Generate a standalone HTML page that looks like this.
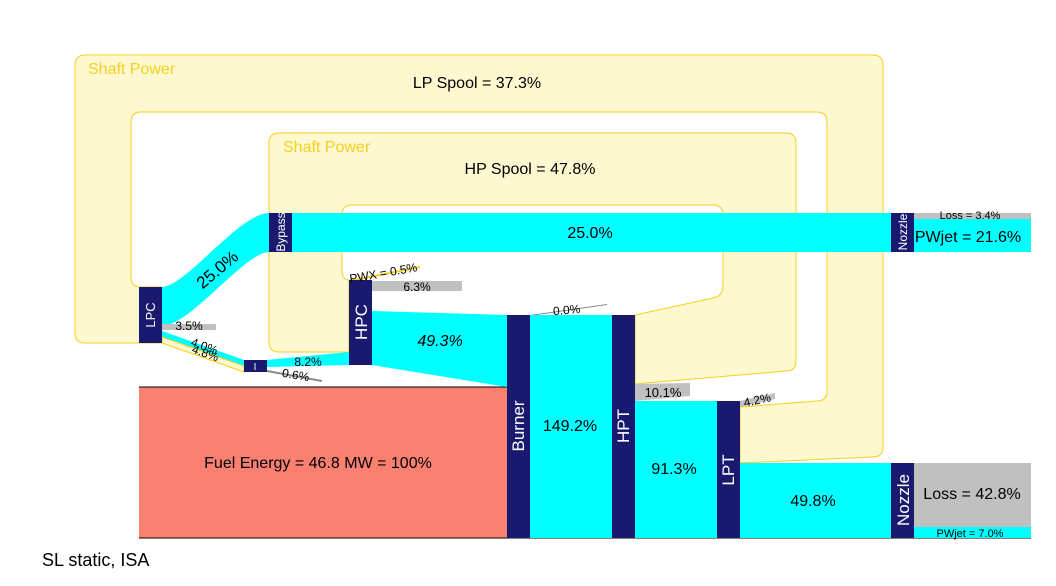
<!DOCTYPE html>
<html><head><meta charset="utf-8"><style>
html,body{margin:0;padding:0;background:#fff;}
svg{display:block;font-family:"Liberation Sans",Arial,sans-serif;}
</style></head><body>
<svg width="1056" height="586" viewBox="0 0 1056 586" xmlns="http://www.w3.org/2000/svg">
<path d="M162,343 L85,343 Q75,343 75,333 L75,65 Q75,55 85,55 L873,55 Q883,55 883,65 L883,447 Q883,457 873,457 L740,463 L740,407 L817,401 Q827,401 827,391 L827,122 Q827,112 817,112 L141,112 Q131,112 131,122 L131,277 Q131,287 141,287 L162,287 Z" fill="#fdf8cf" stroke="#f5d020" stroke-width="1"/>
<path d="M349,352 L279,352 Q269,352 269,342 L269,143 Q269,133 279,133 L786,133 Q796,133 796,143 L796,361 Q796,371 786,371 L635,384 L635,315 L713,298 Q723,296 723,286 L723,215 Q723,205 713,205 L352,205 Q342,205 342,215 L342,270 Q342,280 349,280 Z" fill="#fdf8cf" stroke="#f5d020" stroke-width="1"/>
<rect x="139" y="387" width="368" height="151" fill="#fa8072"/>
<line x1="139" y1="387" x2="507" y2="387" stroke="#000" stroke-width="1"/>
<line x1="139" y1="538" x2="1031" y2="538" stroke="#000" stroke-width="1"/>
<path d="M162,287 C185,287 240,213 269,213 L269,252 C245,252 190,326 162,326 Z" fill="#00ffff"/>
<path d="M162,324 L216,324 L216,330 L162,330 Z" fill="#c0c0c0"/>
<path d="M162,331 L244,360 L244,366 L162,337 Z" fill="#00ffff"/>
<path d="M162,337 L244,366 L244,372 L162,343 Z" fill="#fdf8cf" stroke="#f5d020" stroke-width="1"/>
<path d="M267,360 L349,352 L349,365 L267,367 Z" fill="#00ffff"/>
<path d="M267,370 L322,380 L322,382 L267,372 Z" fill="#888"/>
<path d="M349,280 L420,266 L420,268 L349,282 Z" fill="#f5d020"/>
<rect x="372" y="281" width="90" height="10" fill="#c0c0c0"/>
<path d="M372,311 L507,315 L507,387 L372,365 Z" fill="#00ffff"/>
<path d="M530,315 L607,304 L607,305 L530,316 Z" fill="#888"/>
<rect x="292" y="213" width="599" height="39" fill="#00ffff"/>
<rect x="914" y="213" width="117" height="6" fill="#c0c0c0"/>
<rect x="914" y="219" width="117" height="33" fill="#00ffff"/>
<rect x="530" y="315" width="82" height="223" fill="#00ffff"/>
<rect x="635" y="401" width="82" height="137" fill="#00ffff"/>
<path d="M635,384 L690,383 L690,396 L635,401 Z" fill="#c0c0c0"/>
<path d="M740,401 L775,393 L775,399 L740,407 Z" fill="#c0c0c0"/>
<rect x="740" y="463" width="151" height="75" fill="#00ffff"/>
<rect x="914" y="463" width="117" height="64" fill="#c0c0c0"/>
<rect x="914" y="527" width="117" height="11" fill="#00ffff"/>
<g fill="#191970">
<rect x="139" y="287" width="23" height="56"/>
<rect x="269" y="213" width="23" height="39"/>
<rect x="244" y="360" width="23" height="12"/>
<rect x="349" y="280" width="23" height="85"/>
<rect x="507" y="315" width="23" height="223"/>
<rect x="612" y="315" width="23" height="223"/>
<rect x="717" y="401" width="23" height="137"/>
<rect x="891" y="213" width="23" height="39"/>
<rect x="891" y="463" width="23" height="75"/>
</g>
<g fill="#fff" font-size="17">
<text transform="translate(155,315) rotate(-90)" text-anchor="middle" font-size="13">LPC</text>
<text transform="translate(285,232) rotate(-90)" text-anchor="middle" font-size="12">Bypass</text>
<text x="255" y="370" text-anchor="middle" font-size="10">I</text>
<text transform="translate(367,322) rotate(-90)" text-anchor="middle">HPC</text>
<text transform="translate(524,426) rotate(-90)" text-anchor="middle">Burner</text>
<text transform="translate(629,426) rotate(-90)" text-anchor="middle">HPT</text>
<text transform="translate(734,470) rotate(-90)" text-anchor="middle">LPT</text>
<text transform="translate(907,232) rotate(-90)" text-anchor="middle" font-size="12">Nozzle</text>
<text transform="translate(909,500) rotate(-90)" text-anchor="middle">Nozzle</text>
</g>
<g fill="#000" font-size="16">
<text x="88" y="74" fill="#f5d020">Shaft Power</text>
<text x="477" y="88" text-anchor="middle">LP Spool = 37.3%</text>
<text x="283" y="152" fill="#f5d020">Shaft Power</text>
<text x="530" y="174" text-anchor="middle">HP Spool = 47.8%</text>
<text x="590" y="238" text-anchor="middle">25.0%</text>
<text transform="translate(221,274) rotate(-40)" text-anchor="middle" font-size="17">25.0%</text>
<text x="968" y="242" text-anchor="middle">PWjet = 21.6%</text>
<text x="970" y="219" text-anchor="middle" font-size="11">Loss = 3.4%</text>
<text x="440" y="346" text-anchor="middle" font-style="italic">49.3%</text>
<text x="570" y="431" text-anchor="middle">149.2%</text>
<text x="674" y="474" text-anchor="middle">91.3%</text>
<text x="813" y="506" text-anchor="middle">49.8%</text>
<text x="972" y="499" text-anchor="middle">Loss = 42.8%</text>
<text x="970" y="537" text-anchor="middle" font-size="11">PWjet = 7.0%</text>
<text x="318" y="468" text-anchor="middle">Fuel Energy = 46.8 MW = 100%</text>
<text x="42" y="566" font-size="18">SL static, ISA</text>
</g>
<g fill="#000" font-size="12">
<text x="189" y="330" text-anchor="middle">3.5%</text>
<text transform="translate(203,350) rotate(20)" text-anchor="middle">4.0%</text>
<text transform="translate(204,357) rotate(20)" text-anchor="middle">4.8%</text>
<text x="308" y="366" text-anchor="middle">8.2%</text>
<text transform="translate(295,379) rotate(10)" text-anchor="middle">0.6%</text>
<text transform="translate(384,277) rotate(-10)" text-anchor="middle">PWX = 0.5%</text>
<text x="417" y="291" text-anchor="middle">6.3%</text>
<text transform="translate(567,314) rotate(-5)" text-anchor="middle">0.0%</text>
<text x="663" y="397" text-anchor="middle" font-size="13">10.1%</text>
<text transform="translate(758,404) rotate(-12)" text-anchor="middle">4.2%</text>
</g>
</svg>
</body></html>
